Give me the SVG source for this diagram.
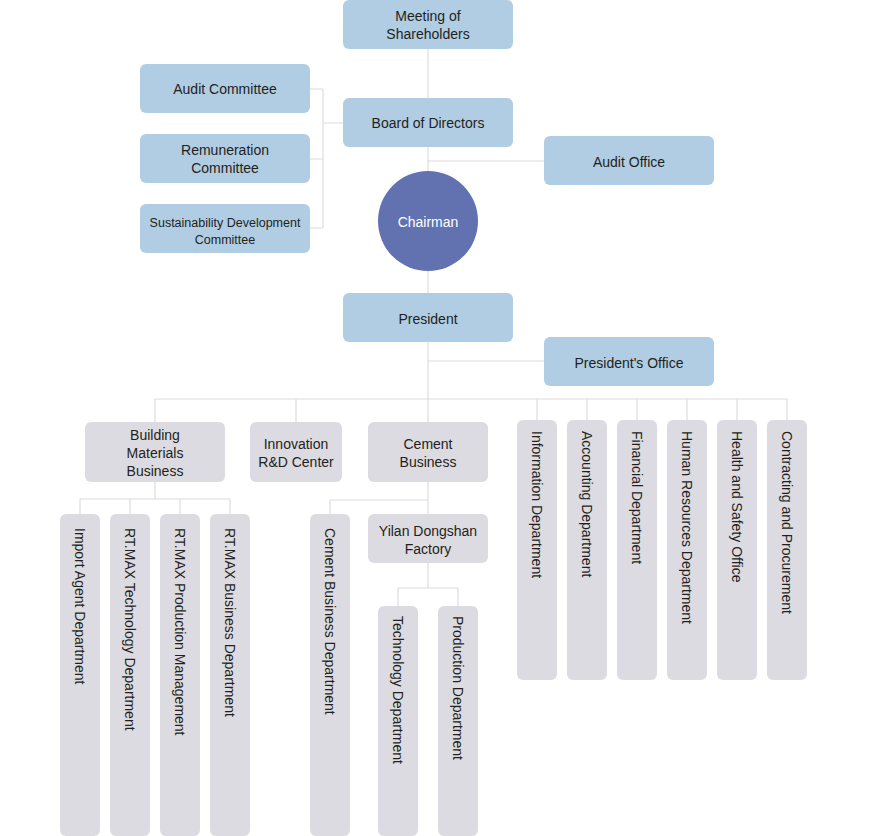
<svg xmlns="http://www.w3.org/2000/svg" width="884" height="836" viewBox="0 0 884 836">
<style>
.b{fill:#b0cde3}
.g{fill:#dcdbe1}
.t{font-family:"Liberation Sans",Arial,sans-serif;font-size:14px;fill:#231f20;text-anchor:middle}
.v{font-family:"Liberation Sans",Arial,sans-serif;font-size:14px;fill:#231f20}
.ln{stroke:#dcdcdc;stroke-width:1.2;fill:none}
</style>
<rect width="884" height="836" fill="#fff"/>
<g id="connectors" class="ln">
<path d="M428 49V293"/>
<path d="M310 89H323M310 159H323M310 228H323M323 89V228M323 123H343"/>
<path d="M428 161H544"/>
<path d="M428 342V422M428 361H544"/>
<path d="M155 399H787M155 399V422M296 399V422M537 399V420M587 399V420M637 399V420M687 399V420M737 399V420M787 399V420"/>
<path d="M155 482V499M80 499H230M80 499V514M130 499V514M180 499V514M230 499V514"/>
<path d="M428 482V514M330 500H428M330 500V514"/>
<path d="M428 563V588M398 588H458M398 588V606M458 588V606"/>
</g>
<g id="shareholders"><rect class="b" x="343" y="0" width="170" height="49" rx="6"/><text class="t" x="428" y="21">Meeting of</text><text class="t" x="428" y="39">Shareholders</text></g>
<g id="board"><rect class="b" x="343" y="98" width="170" height="49" rx="6"/><text class="t" x="428" y="128">Board of Directors</text></g>
<g id="audit-committee"><rect class="b" x="140" y="64" width="170" height="49" rx="6"/><text class="t" x="225" y="94">Audit Committee</text></g>
<g id="remuneration"><rect class="b" x="140" y="134" width="170" height="49" rx="6"/><text class="t" x="225" y="155">Remuneration</text><text class="t" x="225" y="173">Committee</text></g>
<g id="sustainability"><rect class="b" x="140" y="204" width="170" height="49" rx="6"/><text class="t" x="225" y="227" style="font-size:12.5px">Sustainability Development</text><text class="t" x="225" y="244" style="font-size:12.5px">Committee</text></g>
<g id="audit-office"><rect class="b" x="544" y="136" width="170" height="49" rx="6"/><text class="t" x="629" y="167">Audit Office</text></g>
<g id="chairman"><circle cx="428" cy="221" r="50" fill="#6272b0"/><text class="t" x="428" y="227" style="fill:#fff">Chairman</text></g>
<g id="president"><rect class="b" x="343" y="293" width="170" height="49" rx="6"/><text class="t" x="428" y="324">President</text></g>
<g id="presidents-office"><rect class="b" x="544" y="337" width="170" height="49" rx="6"/><text class="t" x="629" y="368">President's Office</text></g>
<g id="building"><rect class="g" x="85" y="422" width="140" height="60" rx="6"/><text class="t" x="155" y="440">Building</text><text class="t" x="155" y="458">Materials</text><text class="t" x="155" y="476">Business</text></g>
<g id="innovation"><rect class="g" x="250" y="422" width="92" height="60" rx="6"/><text class="t" x="296" y="449">Innovation</text><text class="t" x="296" y="467">R&amp;D Center</text></g>
<g id="cement"><rect class="g" x="368" y="422" width="120" height="60" rx="6"/><text class="t" x="428" y="449">Cement</text><text class="t" x="428" y="467">Business</text></g>
<g id="info"><rect class="g" x="517" y="420" width="40" height="260" rx="6"/><text class="v" transform="translate(532 431) rotate(90)">Information Department</text></g>
<g id="accounting"><rect class="g" x="567" y="420" width="40" height="260" rx="6"/><text class="v" transform="translate(582 431) rotate(90)">Accounting Department</text></g>
<g id="financial"><rect class="g" x="617" y="420" width="40" height="260" rx="6"/><text class="v" transform="translate(632 431) rotate(90)">Financial Department</text></g>
<g id="hr"><rect class="g" x="667" y="420" width="40" height="260" rx="6"/><text class="v" transform="translate(682 431) rotate(90)">Human Resources Department</text></g>
<g id="health"><rect class="g" x="717" y="420" width="40" height="260" rx="6"/><text class="v" transform="translate(732 431) rotate(90)">Health and Safety Office</text></g>
<g id="contracting"><rect class="g" x="767" y="420" width="40" height="260" rx="6"/><text class="v" transform="translate(782 431) rotate(90)">Contracting and Procurement</text></g>
<g id="import"><rect class="g" x="60" y="514" width="40" height="322" rx="6"/><text class="v" transform="translate(75 528) rotate(90)">Import Agent Department</text></g>
<g id="rtmax-tech"><rect class="g" x="110" y="514" width="40" height="322" rx="6"/><text class="v" transform="translate(125 528) rotate(90)">RT.MAX Technology Department</text></g>
<g id="rtmax-prod"><rect class="g" x="160" y="514" width="40" height="322" rx="6"/><text class="v" transform="translate(175 528) rotate(90)">RT.MAX Production Management</text></g>
<g id="rtmax-bus"><rect class="g" x="210" y="514" width="40" height="322" rx="6"/><text class="v" transform="translate(225 528) rotate(90)">RT.MAX Business Department</text></g>
<g id="cement-bus-dept"><rect class="g" x="310" y="514" width="40" height="322" rx="6"/><text class="v" transform="translate(325 528) rotate(90)">Cement Business Department</text></g>
<g id="yilan"><rect class="g" x="368" y="514" width="120" height="49" rx="6"/><text class="t" x="428" y="536">Yilan Dongshan</text><text class="t" x="428" y="554">Factory</text></g>
<g id="technology"><rect class="g" x="378" y="606" width="40" height="230" rx="6"/><text class="v" transform="translate(393 616) rotate(90)">Technology Department</text></g>
<g id="production"><rect class="g" x="438" y="606" width="40" height="230" rx="6"/><text class="v" transform="translate(453 616) rotate(90)">Production Department</text></g>
</svg>
